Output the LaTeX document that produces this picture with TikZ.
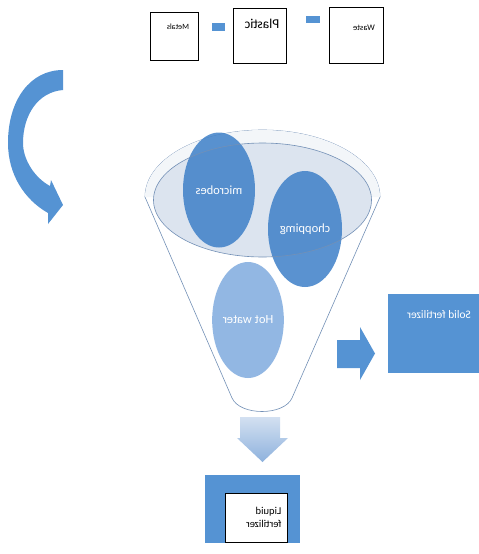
\documentclass[tikz,border=0pt]{standalone}
\usepackage{fontspec}
\setmainfont{Carlito}
\usepackage{graphicx}
\usetikzlibrary{shapes.geometric, positioning}

\definecolor{rimline}{HTML}{7390B6}
\definecolor{rimfill}{HTML}{F3F6F9}
\definecolor{mouthfill}{HTML}{DCE4EF}
\definecolor{deepblue}{HTML}{3E80C8}
\definecolor{paleblue}{HTML}{8DB4E2}
\definecolor{blockblue}{HTML}{5593D3}
\definecolor{arrowtop}{HTML}{D3E0F1}
\definecolor{arrowbot}{HTML}{8EB2DD}

% mirrored lettering
\newcommand{\flip}[1]{\reflectbox{#1}}

\begin{document}
\begin{tikzpicture}[x=1pt, y=-1pt,
    bin/.style={draw=black, line width=0.5pt, fill=white, inner sep=0pt},
    linkbar/.style={fill=blockblue, inner sep=0pt},
    blob/.style={ellipse, inner sep=0pt, fill=deepblue, fill opacity=0.85, text opacity=1, text=white, font=\fontsize{12.5}{14}\selectfont},
    rim/.style={draw=rimline, line width=0.6pt}]
    \useasboundingbox (0,0) rectangle (479,554);

    % sorted waste streams
    \node[bin, minimum width=48, minimum height=48] (metals)  at (174,36)    {};
    \node[bin, minimum width=53, minimum height=55] (plastic) at (259.5,35.5) {};
    \node[bin, minimum width=54, minimum height=56] (waste)   at (356,35)    {};
    \node[font=\fontsize{8}{9}\selectfont]     (metalsl)  at (178,27) {\flip{Metals}};
    \node[font=\fontsize{13.5}{15}\selectfont] (plasticl) at (262,24) {\flip{Plastic}};
    \node[font=\fontsize{8.5}{10}\selectfont]  (wastel)   at (364,28) {\flip{Waste}};
    \node[linkbar, minimum width=13, minimum height=8] (bar1) at (218.5,27) {};
    \node[linkbar, minimum width=14, minimum height=7] (bar2) at (313,19.5) {};

    % curved feed arrow
    \fill[blockblue] (63,70) -- (63,90) .. controls (38,92) and (23,115) .. (23,143)
      .. controls (23,160) and (35,178) .. (50,186) -- (51,180) -- (63,205) -- (48,224)
      -- (48,213) .. controls (25,200) and (8,175) .. (8,143)
      .. controls (8,100) and (30,70) .. (63,70) -- cycle;

    % funnel body
    \path[rim, fill=white] (145,197) .. controls (145,160) and (197.6,130) .. (262.5,130)
      .. controls (327.4,130) and (380,160) .. (380,197) -- (292,398)
      .. controls (284,416) and (240,416) .. (232,398) -- cycle;
    \fill[rimfill] (145,197) .. controls (145,160) and (197.6,130) .. (262.5,130)
      .. controls (327.4,130) and (380,160) .. (380,197) -- cycle;
    \node[ellipse, fill=mouthfill, minimum width=218, minimum height=114, inner sep=0pt] (mouth) at (262.5,200) {};

    % process steps
    \node[blob, minimum width=72, minimum height=115] (microbes) at (219,190) {\flip{microbes}};
    \node[blob, minimum width=74, minimum height=116] (chopping) at (305,229) {\flip{choppimg}};
    \node[blob, fill=paleblue, fill opacity=0.95, minimum width=66, minimum height=116] (hotwater) at (248,320) {\flip{Hot water}};
    \draw[rim] (mouth.center) ellipse [x radius=109, y radius=57];

    % solid output
    \fill[blockblue] (337,340) -- (360,340) -- (360,327) -- (375,353.5) -- (360,380) -- (360,368) -- (337,368) -- cycle;
    \node[fill=blockblue, minimum width=91, minimum height=79, inner sep=0pt] (solid) at (433.5,333.5) {};
    \node[text=white, font=\fontsize{11.5}{13}\selectfont] (solidl) at (439,315) {\flip{Solid fertilizer}};

    % liquid output
    \shade[top color=arrowtop, bottom color=arrowbot] (240,417) -- (280,417) -- (280,438) -- (288,438)
      -- (262.5,462) -- (237,438) -- (240,438) -- cycle;
    \node[fill=blockblue, minimum width=95, minimum height=68, inner sep=0pt] (liquid) at (252.5,509) {};
    \node[bin, minimum width=62, minimum height=49] (liquidin) at (256,517.5) {};
    \node[anchor=east, font=\fontsize{10.5}{13}\selectfont] (liquidl) at (285,518)
      {\flip{\begin{tabular}{@{}l@{}}Liquid\\fertilizer\end{tabular}}};
  \end{tikzpicture}
\end{document}
